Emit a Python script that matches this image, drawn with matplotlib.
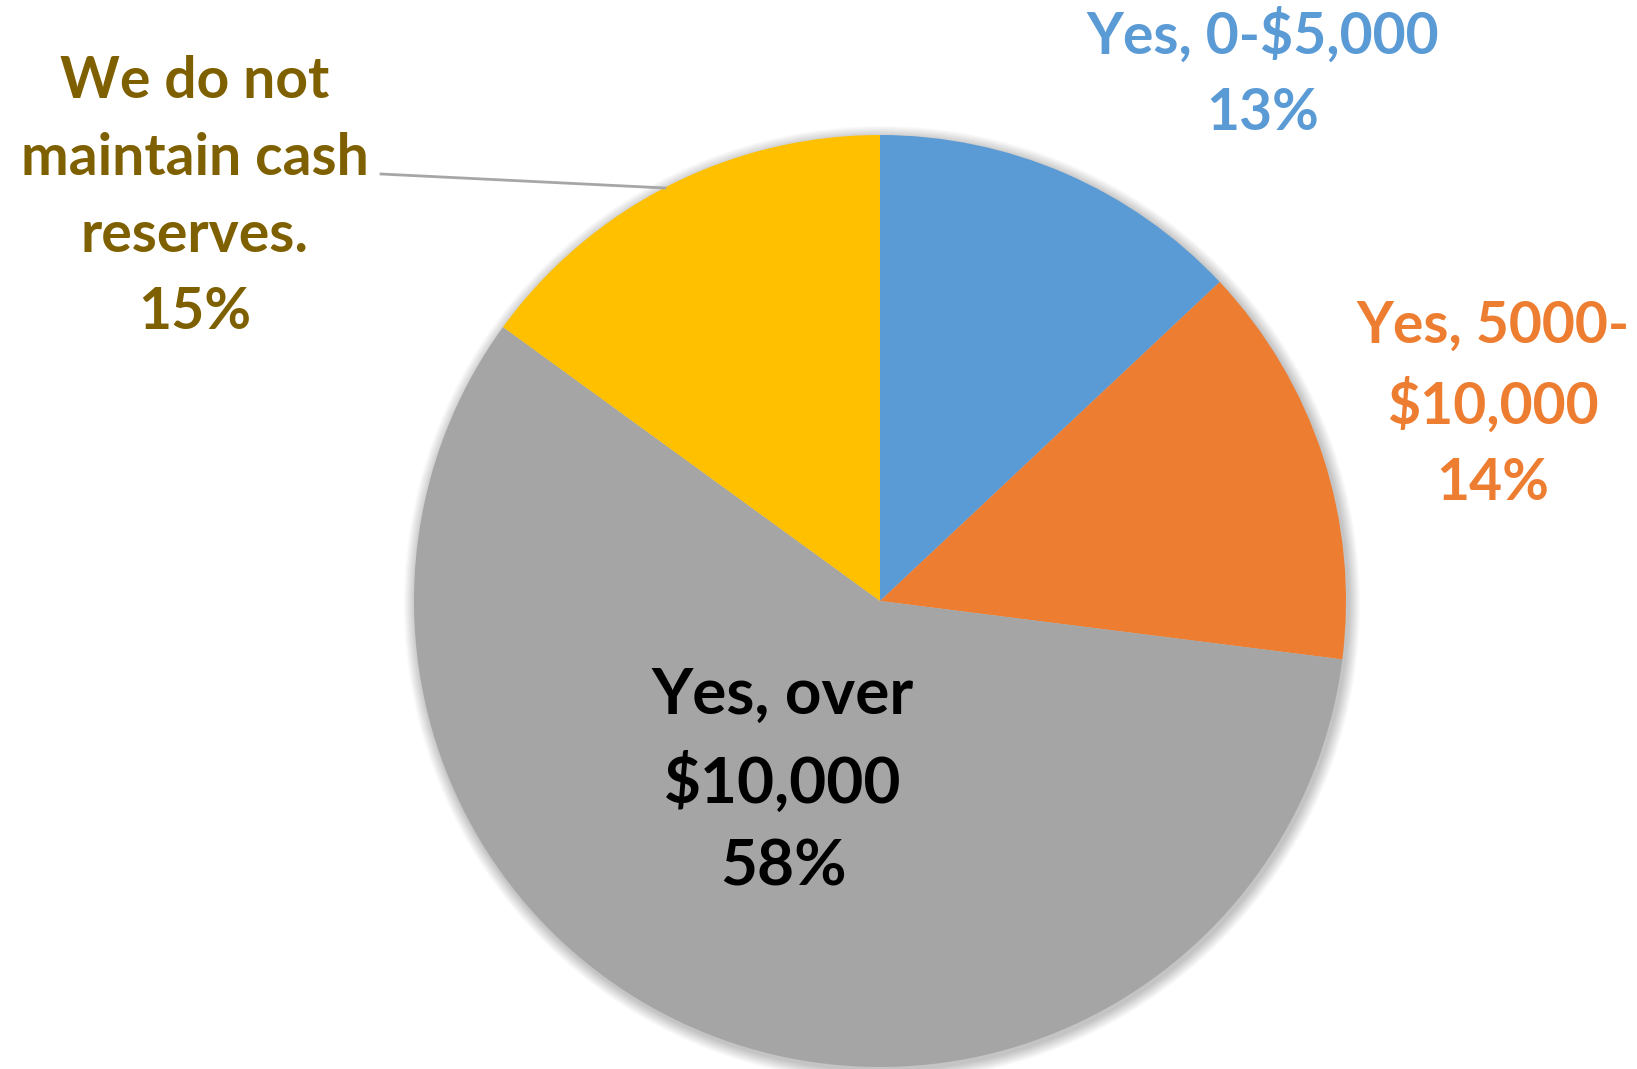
import matplotlib.pyplot as plt
from matplotlib.patches import Circle

# survey answers: do you maintain cash reserves?
categories = ['Yes, 0-$5,000', 'Yes, 5000-\n$10,000', 'Yes, over\n$10,000', 'We do not\nmaintain cash\nreserves.']
shares = [13, 14, 58, 15]
slice_colors = ['#5B9BD5', '#ED7D31', '#A5A5A5', '#FFC000']
label_colors = ['#5B9BD5', '#ED7D31', '#000000', '#7F6000']

W, H = 1637, 1069
fig = plt.figure(figsize=(W / 100, H / 100), dpi=100)
ax = fig.add_axes([0, 0, 1, 1])

cx, cy, r = 880, H - 601, 466

# soft drop shadow behind the pie
for k in range(12):
    ax.add_patch(Circle((cx + 2, cy - 3), r + 12 - k, color='black', alpha=0.018, lw=0, zorder=0))

ax.pie(shares, colors=slice_colors, startangle=90, counterclock=False,
       center=(cx, cy), radius=r, frame=True,
       wedgeprops=dict(linewidth=0, zorder=1))

# label anchors (pixel coords from top) and sizes
label_pos = [(1263, 74), (1493, 405), (783, 781), (195, 197)]
label_size = [41, 41, 46, 41]
label_space = [1.55, 1.53, 1.53, 1.56]

for cat, pct, col, (x, y), fs, ls in zip(categories, shares, label_colors, label_pos, label_size, label_space):
    ax.text(x, H - y, f'{cat}\n{pct}%', color=col, fontsize=fs, fontweight='bold',
            family='Lato', ha='center', va='center', linespacing=ls, zorder=3)

# leader line for the left label
ax.plot([381, 665], [H - 174, H - 188], color='#A6A6A6', lw=2, zorder=2)

ax.set_xlim(0, W)
ax.set_ylim(0, H)
ax.set_aspect('equal')
ax.axis('off')

fig.savefig('out.png', dpi=100)
